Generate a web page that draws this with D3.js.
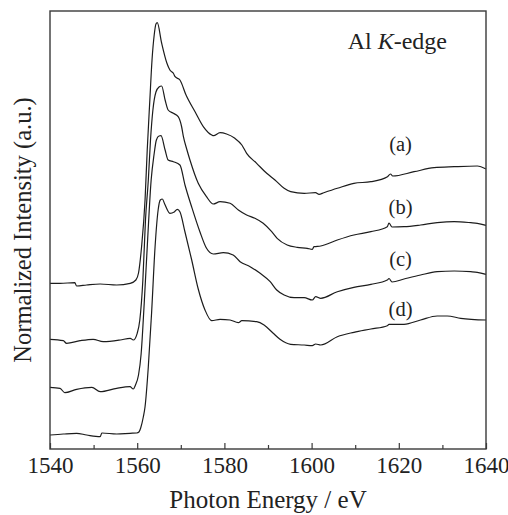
<!DOCTYPE html>
<html>
<head>
<meta charset="utf-8">
<script src="https://cdn.jsdelivr.net/npm/d3@7"></script>
<style>
  body { margin: 0; background: #fff; }
</style>
</head>
<body>
<svg id="chart" width="508" height="515"></svg>
<script>
// spectra, [photon energy (eV), normalized intensity (a.u., stacked)]
const specA = [[1540,1.657],[1542.3,1.657],[1545.7,1.663],[1546.1,1.63],[1548.4,1.64],[1551.5,1.65],[1555.3,1.64],[1558.4,1.657],
  [1559.7,1.69],[1560.3,1.76],[1561.0,2.02],[1561.8,2.49],[1562.3,2.99],[1562.9,3.49],[1563.4,3.89],[1563.9,4.14],[1564.3,4.25],
  [1564.6,4.263],[1565.6,4.06],[1566.8,3.86],[1567.5,3.79],[1568.3,3.757],[1568.7,3.723],[1569.8,3.69],[1571.2,3.54],[1573.3,3.37],
  [1575.2,3.222],[1577.1,3.14],[1577.5,3.133],[1579.0,3.163],[1580.5,3.15],[1582.4,3.107],[1584.0,3.04],[1585.1,2.957],[1587.4,2.857],
  [1589.7,2.757],[1591.6,2.69],[1593.7,2.607],[1595.2,2.573],[1598.3,2.557],[1600.9,2.563],[1601.7,2.547],[1602.8,2.563],[1605.9,2.607],
  [1609.7,2.657],[1613.6,2.673],[1617.4,2.723],[1618.1,2.75],[1618.6,2.73],[1623.5,2.773],[1628.1,2.813],[1632.7,2.823],[1638.0,2.83],[1640,2.80]];

const specB = [[1540,1.097],[1543.05,1.083],[1543.8,1.057],[1546.9,1.083],[1549.9,1.097],[1552.2,1.073],[1556.1,1.09],[1558.4,1.107],
  [1559.1,1.09],[1560.0,1.157],[1560.6,1.29],[1561.3,1.69],[1561.9,2.29],[1562.55,2.69],[1563.05,3.09],[1563.6,3.39],[1564.3,3.57],
  [1565.0,3.62],[1565.6,3.63],[1566.4,3.49],[1567.1,3.39],[1568.3,3.357],[1569.4,3.323],[1570.2,3.22],[1570.6,3.123],[1571.35,3.0],
  [1572.1,2.89],[1574.0,2.657],[1575.9,2.523],[1577.45,2.45],[1579.0,2.473],[1581.3,2.457],[1583.2,2.39],[1585.1,2.34],[1587.0,2.307],
  [1588.9,2.257],[1590.85,2.173],[1592.1,2.107],[1594.4,2.04],[1596.7,2.017],[1599.0,2.007],[1600.16,1.997],[1600.55,2.023],[1602.1,2.03],
  [1605.9,2.09],[1609.7,2.14],[1613.6,2.173],[1617.36,2.223],[1617.75,2.26],[1618.44,2.22],[1621.2,2.223],[1625.0,2.24],[1628.8,2.263],
  [1632.7,2.273],[1636.5,2.263],[1638.0,2.257],[1640,2.237]];

const specC = [[1540,0.617],[1542.3,0.607],[1543.4,0.563],[1546.1,0.597],[1549.6,0.617],[1551.5,0.573],[1555.3,0.607],[1558.35,0.623],
  [1559.1,0.60],[1559.6,0.64],[1560.3,0.74],[1560.9,0.95],[1561.6,1.45],[1562.4,2.10],[1563.2,2.69],[1563.85,2.94],[1564.4,3.09],
  [1565.0,3.13],[1565.46,3.133],[1566.4,2.99],[1567.1,2.89],[1568.3,2.873],[1569.8,2.84],[1570.96,2.64],[1572.5,2.42],[1574.4,2.17],
  [1575.9,2.007],[1577.45,1.95],[1579.75,1.963],[1582.0,1.94],[1583.6,1.873],[1585.9,1.823],[1588.2,1.757],[1590.5,1.673],[1592.0,1.59],
  [1593.7,1.54],[1596.0,1.513],[1598.3,1.513],[1600.16,1.49],[1600.94,1.523],[1602.1,1.507],[1605.9,1.573],[1609.7,1.617],[1613.6,1.647],
  [1617.36,1.69],[1617.75,1.705],[1618.44,1.67],[1621.2,1.70],[1625.0,1.74],[1628.8,1.773],[1632.7,1.78],[1636.5,1.773],[1638.0,1.767],[1640,1.747]];

const specD = [[1540,0.14],[1543.05,0.15],[1546.1,0.157],[1548.4,0.14],[1551.5,0.123],[1551.9,0.16],[1555.3,0.15],[1558.35,0.157],
  [1559.9,0.16],[1560.4,0.17],[1560.8,0.21],[1561.4,0.32],[1561.8,0.423],[1562.55,0.823],[1563.3,1.36],[1564.1,2.023],[1564.8,2.39],
  [1565.3,2.49],[1565.76,2.50],[1566.3,2.45],[1567.5,2.357],[1568.5,2.37],[1569.2,2.397],[1569.82,2.37],[1570.96,2.17],[1572.5,1.89],
  [1574.0,1.60],[1575.55,1.39],[1577.1,1.283],[1579.0,1.297],[1581.3,1.29],[1583.2,1.263],[1584.0,1.283],[1587.4,1.273],[1589.1,1.24],
  [1591.2,1.157],[1592.75,1.097],[1595.2,1.047],[1598.3,1.04],[1600.16,1.033],[1600.94,1.05],[1602.1,1.04],[1605.9,1.123],[1609.7,1.167],
  [1613.6,1.20],[1617.36,1.233],[1617.75,1.247],[1621.2,1.247],[1625.0,1.29],[1628.8,1.33],[1631.1,1.33],[1634.2,1.307],[1640,1.29]];

const seriesList = [specA, specB, specC, specD];
const seriesLabels = ["(a)", "(b)", "(c)", "(d)"];
const labelPos = [[1620.4, 2.98], [1620.4, 2.35], [1620.4, 1.83], [1620.4, 1.33]];  // label anchor, data coords
const majorTicks = [1540, 1560, 1580, 1600, 1620, 1640];
const minorTicks = [1550, 1570, 1590, 1610, 1630];

const FONT = "'Liberation Serif', 'Times New Roman', Times, serif";

const svg = d3.select("#chart");
const margin = {left: 50, right: 22, top: 11, bottom: 66};
const width = 508 - margin.left - margin.right,
    height = 515 - margin.top - margin.bottom;

const x = d3.scaleLinear().domain([1540, 1640]).range([0, width]);
const y = d3.scaleLinear().domain([0, 4.38]).range([height, 0]);

const g = svg.append("g").attr("transform", `translate(${margin.left},${margin.top})`);

// curves
const line = d3.line()
    .x(d => x(d[0]))
    .y(d => y(d[1]))
    .curve(d3.curveMonotoneX);

g.selectAll(".spec")
    .data(seriesList)
    .enter()
    .append("path")
    .attr("class", "spec")
    .attr("d", line)
    .attr("fill", "none")
    .attr("stroke", "#1c1c1c")
    .attr("stroke-width", 1.2);

// frame
g.append("rect")
    .attr("width", width)
    .attr("height", height)
    .attr("fill", "none")
    .attr("stroke", "#3a3a3a")
    .attr("stroke-width", 1.4);

// bottom axis, ticks pointing inward
const xAxis = g.append("g")
    .attr("transform", `translate(0,${height})`)
    .call(d3.axisBottom(x).tickValues(majorTicks).tickSize(-6).tickPadding(8).tickFormat(d3.format("d")));
xAxis.select(".domain").remove();
xAxis.selectAll("line").attr("stroke", "#3a3a3a").attr("stroke-width", 1.2);
xAxis.selectAll("text")
    .style("font-family", FONT)
    .style("font-size", "23px")
    .attr("fill", "#222");

const xMinor = g.append("g")
    .attr("transform", `translate(0,${height})`)
    .call(d3.axisBottom(x).tickValues(minorTicks).tickSize(-4).tickFormat(""));
xMinor.select(".domain").remove();
xMinor.selectAll("line").attr("stroke", "#3a3a3a").attr("stroke-width", 1.2);

// axis titles
svg.append("text")
    .attr("x", margin.left + width / 2)
    .attr("y", 508)
    .attr("text-anchor", "middle")
    .style("font-family", FONT)
    .style("font-size", "25px")
    .attr("fill", "#222")
    .text("Photon Energy / eV");

svg.append("text")
    .attr("transform", `translate(31,${margin.top + height / 2}) rotate(-90)`)
    .attr("text-anchor", "middle")
    .style("font-family", FONT)
    .style("font-size", "24.5px")
    .attr("fill", "#222")
    .text("Normalized Intensity (a.u.)");

// edge label
const edge = g.append("text")
    .attr("x", 397)
    .attr("y", 38)
    .attr("text-anchor", "end")
    .style("font-family", FONT)
    .style("font-size", "24px")
    .attr("fill", "#222");
edge.append("tspan").text("Al ");
edge.append("tspan").style("font-style", "italic").text("K");
edge.append("tspan").text("-edge");

// series labels
g.selectAll(".lbl")
    .data(seriesLabels)
    .enter()
    .append("text")
    .attr("class", "lbl")
    .attr("x", (d, i) => x(labelPos[i][0]))
    .attr("y", (d, i) => y(labelPos[i][1]))
    .attr("text-anchor", "middle")
    .style("font-family", FONT)
    .style("font-size", "20.5px")
    .attr("fill", "#222")
    .text(d => d);
</script>
</body>
</html>
